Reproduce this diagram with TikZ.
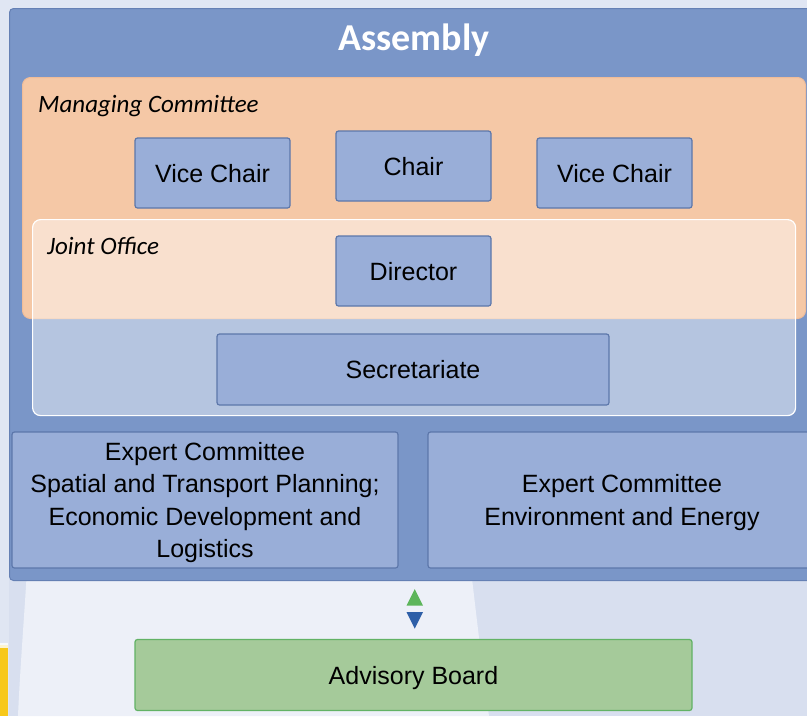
\documentclass[tikz,border=0pt]{standalone}
\usepackage{fontspec}
\setmainfont{Liberation Sans}
\newfontfamily\carlito{Carlito}
\definecolor{bgtop}{HTML}{E0E6F3}
\definecolor{bglight}{HTML}{EDF0F8}
\definecolor{bgdark}{HTML}{D8DFEF}
\definecolor{assembly}{HTML}{7A96C8}
\definecolor{assemblyline}{HTML}{6580B4}
\definecolor{peach}{HTML}{F5C8A6}
\definecolor{peachline}{HTML}{F0BC98}
\definecolor{boxfill}{HTML}{99AED8}
\definecolor{boxline}{HTML}{5C77AA}
\definecolor{advfill}{HTML}{A5CA9A}
\definecolor{advline}{HTML}{62B265}
\definecolor{upgreen}{HTML}{5DB55B}
\definecolor{downblue}{HTML}{2E5FA8}
\definecolor{yellowbar}{HTML}{F7C81A}
\begin{document}
\begin{tikzpicture}[x=1pt,y=-1pt,
  box/.style={draw=boxline, fill=boxfill, line width=1.2pt, rounded corners=2.5pt,
    inner sep=0pt, text depth=0pt, font=\fontsize{25}{32.5}\selectfont, align=center},
  grouplabel/.style={anchor=base west, inner sep=0pt, font=\carlito\itshape\fontsize{25}{30}\selectfont}]
\clip (0,0) rectangle (807,716);
% background
\fill[bgtop] (0,0) rectangle (807,716);
\fill[bgdark] (9,570) rectangle (807,716);
\fill[bglight] (27,570) -- (471,570) .. controls (478,630) and (484,680) .. (489,716) -- (18,716) .. controls (20,670) and (24,620) .. (27,570) -- cycle;
\fill[yellowbar] (0,645) rectangle (8,716);
\fill[white, opacity=0.8] (0,643) rectangle (8,648);
% assembly
\node[draw=assemblyline, fill=assembly, line width=1pt, rounded corners=4pt, inner sep=0pt,
  minimum width=830pt, minimum height=572pt, anchor=north west] (assembly) at (9,8) {};
\node[text=white, font=\carlito\bfseries\fontsize{38}{44}\selectfont, inner sep=0pt, anchor=base] (assemblytitle) at (414,50) {Assembly};
% managing committee
\node[draw=peachline, fill=peach, line width=1pt, rounded corners=8pt, inner sep=0pt,
  minimum width=783pt, minimum height=241pt, anchor=north west] (managing) at (22,77) {};
\node[grouplabel] (managinglabel) at (38,112) {Managing Committee};
% joint office (translucent overlay)
\node[draw=white, fill=white, fill opacity=0.45, line width=1.2pt, rounded corners=8pt, inner sep=0pt,
  minimum width=763pt, minimum height=196pt, anchor=north west] (joint) at (32,219) {};
\node[grouplabel] (jointlabel) at (47,254) {Joint Office};
% boxes
\node[box, minimum width=155pt, minimum height=70pt] (vcl) at (212.5,173) {Vice Chair};
\node[box, minimum width=155pt, minimum height=70pt] (chair) at (413.5,166) {Chair};
\node[box, minimum width=155pt, minimum height=70pt] (vcr) at (614.5,173) {Vice Chair};
\node[box, minimum width=155pt, minimum height=70pt] (director) at (413.5,271) {Director};
\node[box, minimum width=392pt, minimum height=71pt] (secretariate) at (413,369.5) {Secretariate};
\node[box, minimum width=386pt, minimum height=136pt] (ecl) at (205,500) {Expert Committee\\Spatial and Transport Planning;\\Economic Development and\\Logistics};
\node[box, minimum width=388pt, minimum height=136pt] (ecr) at (622,500) {Expert Committee\\Environment and Energy};
% advisory board
\node[box, draw=advline, fill=advfill, minimum width=557pt, minimum height=71pt] (advisory) at (413.5,675) {Advisory Board};
% double arrow heads
\fill[upgreen] (406.5,605.5) -- (414.75,589) -- (423,605.5) -- cycle;
\fill[downblue] (406.5,612) -- (423,612) -- (414.75,628.5) -- cycle;
\end{tikzpicture}
\end{document}
